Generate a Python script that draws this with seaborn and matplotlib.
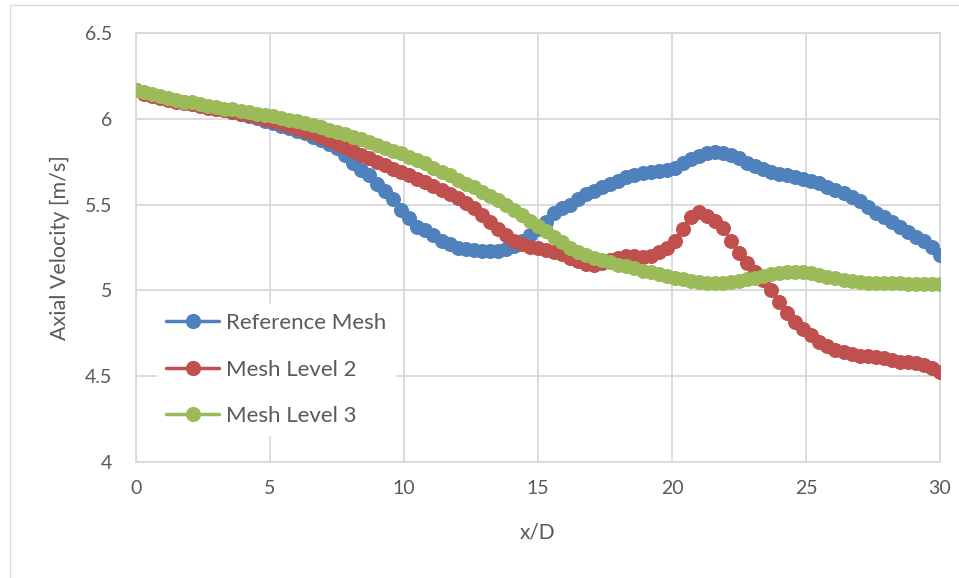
import numpy as np
import pandas as pd
import matplotlib
matplotlib.use("Agg")
import matplotlib.pyplot as plt
from matplotlib.patches import Rectangle
import seaborn as sns

# Sampling stations along the wake, x/D
x_over_d = np.linspace(0, 30, 101)

reference_mesh = [
    6.17, 6.15, 6.14, 6.125, 6.115, 6.105, 6.095, 6.09, 6.08, 6.07,
    6.06, 6.05, 6.04, 6.03, 6.015, 6.005, 5.99, 5.975, 5.96, 5.945,
    5.93, 5.915, 5.895, 5.875, 5.855, 5.83, 5.79, 5.74, 5.70, 5.67,
    5.62, 5.58, 5.53, 5.47, 5.42, 5.37, 5.35, 5.32, 5.29, 5.27,
    5.25, 5.24, 5.235, 5.23, 5.23, 5.23, 5.24, 5.26, 5.29, 5.32,
    5.36, 5.40, 5.45, 5.48, 5.50, 5.53, 5.56, 5.58, 5.60, 5.62,
    5.64, 5.66, 5.675, 5.685, 5.69, 5.695, 5.70, 5.715, 5.74, 5.765,
    5.785, 5.80, 5.805, 5.80, 5.79, 5.77, 5.745, 5.725, 5.705, 5.69,
    5.68, 5.67, 5.66, 5.65, 5.64, 5.625, 5.605, 5.585, 5.565, 5.545,
    5.52, 5.485, 5.45, 5.425, 5.40, 5.37, 5.34, 5.31, 5.285, 5.255,
    5.205,
]

mesh_level_2 = [
    6.165, 6.145, 6.13, 6.12, 6.11, 6.10, 6.09, 6.085, 6.075, 6.065,
    6.055, 6.05, 6.04, 6.03, 6.02, 6.01, 6.00, 5.99, 5.975, 5.96,
    5.945, 5.93, 5.915, 5.895, 5.875, 5.855, 5.835, 5.815, 5.79, 5.77,
    5.75, 5.73, 5.71, 5.69, 5.67, 5.65, 5.63, 5.61, 5.585, 5.56,
    5.54, 5.51, 5.48, 5.44, 5.40, 5.36, 5.32, 5.29, 5.27, 5.255,
    5.245, 5.235, 5.225, 5.21, 5.19, 5.17, 5.155, 5.15, 5.16, 5.175,
    5.19, 5.20, 5.20, 5.195, 5.20, 5.225, 5.25, 5.29, 5.36, 5.43,
    5.455, 5.435, 5.405, 5.365, 5.29, 5.22, 5.16, 5.11, 5.06, 5.00,
    4.935, 4.87, 4.815, 4.775, 4.74, 4.70, 4.675, 4.655, 4.64, 4.63,
    4.62, 4.615, 4.61, 4.605, 4.595, 4.585, 4.58, 4.575, 4.565, 4.55,
    4.525,
]

mesh_level_3 = [
    6.17, 6.155, 6.145, 6.13, 6.12, 6.11, 6.10, 6.095, 6.085, 6.075,
    6.07, 6.06, 6.055, 6.045, 6.04, 6.03, 6.025, 6.015, 6.005, 5.995,
    5.99, 5.975, 5.965, 5.95, 5.935, 5.925, 5.91, 5.895, 5.88, 5.865,
    5.845, 5.83, 5.815, 5.80, 5.78, 5.76, 5.74, 5.715, 5.69, 5.67,
    5.645, 5.62, 5.60, 5.575, 5.55, 5.525, 5.50, 5.47, 5.44, 5.405,
    5.375, 5.345, 5.31, 5.28, 5.25, 5.225, 5.205, 5.19, 5.175, 5.165,
    5.15, 5.14, 5.13, 5.115, 5.105, 5.095, 5.085, 5.075, 5.065, 5.055,
    5.05, 5.045, 5.045, 5.045, 5.05, 5.055, 5.065, 5.075, 5.085, 5.095,
    5.10, 5.105, 5.11, 5.11, 5.10, 5.09, 5.08, 5.07, 5.06, 5.055,
    5.05, 5.045, 5.045, 5.045, 5.045, 5.045, 5.04, 5.04, 5.04, 5.035,
    5.035,
]

series_names = ["Reference Mesh", "Mesh Level 2", "Mesh Level 3"]
series_values = [reference_mesh, mesh_level_2, mesh_level_3]
series_colors = ["#4F81BD", "#C0504D", "#9BBB59"]

x_ticks = [0, 5, 10, 15, 20, 25, 30]
y_ticks = [4, 4.5, 5, 5.5, 6, 6.5]
y_tick_labels = ["4", "4.5", "5", "5.5", "6", "6.5"]

frames = []
for name, vals in zip(series_names, series_values):
    frames.append(pd.DataFrame({"x/D": x_over_d, "velocity": vals, "series": name}))
data = pd.concat(frames, ignore_index=True)

sns.set_theme(style="white")
plt.rcParams["font.family"] = ["Lato", "DejaVu Sans"]

text_color = "#595959"
grid_color = "#D9D9D9"

fig = plt.figure(figsize=(9.59, 5.78), dpi=100)
ax = fig.add_axes([136 / 959, 1 - 462 / 578, (940 - 136) / 959, (462 - 33) / 578])

for name, color in zip(series_names, series_colors):
    sub = data[data["series"] == name]
    sns.lineplot(
        data=sub, x="x/D", y="velocity", ax=ax, color=color, label=name,
        marker="o", markersize=10.8, markeredgewidth=0, linewidth=2.2,
        sort=False, zorder=3,
    )

ax.set_xlim(0, 30)
ax.set_ylim(4, 6.5)
ax.set_xticks(x_ticks)
ax.set_yticks(y_ticks)
ax.set_yticklabels(y_tick_labels)
ax.grid(True, color=grid_color, linewidth=1.3)
ax.set_axisbelow(True)
for side in ["left", "right", "top", "bottom"]:
    ax.spines[side].set_color(grid_color)
    ax.spines[side].set_linewidth(1.3)
ax.tick_params(axis="both", length=0, labelsize=14, colors=text_color)
ax.tick_params(axis="x", pad=13)
ax.tick_params(axis="y", pad=17)

ax.set_xlabel("x/D", fontsize=15, color=text_color, labelpad=18)
ax.set_ylabel("Axial Velocity [m/s]", fontsize=15.5, color=text_color, labelpad=11)

leg = ax.legend(
    loc="upper left", bbox_to_anchor=(157 / 959, 1 - 304 / 578),
    bbox_transform=fig.transFigure, frameon=True, fancybox=False,
    edgecolor="white", facecolor="white", framealpha=1.0,
    fontsize=16, handlelength=2.4, handletextpad=0.3,
    labelspacing=1.2, borderpad=0.4, borderaxespad=0,
)
for t in leg.get_texts():
    t.set_color(text_color)
for h in leg.get_lines():
    h.set_linewidth(2.5)
    h.set_markersize(11)

# light outer frame of the chart area
fig.patches.append(Rectangle(
    (10 / 959, -0.05), 1.2, (578 - 5) / 578 + 0.05,
    transform=fig.transFigure, fill=False, edgecolor="#D9D9D9",
    linewidth=1.0, zorder=0,
))

fig.savefig("out.png", dpi=100, facecolor="white")
